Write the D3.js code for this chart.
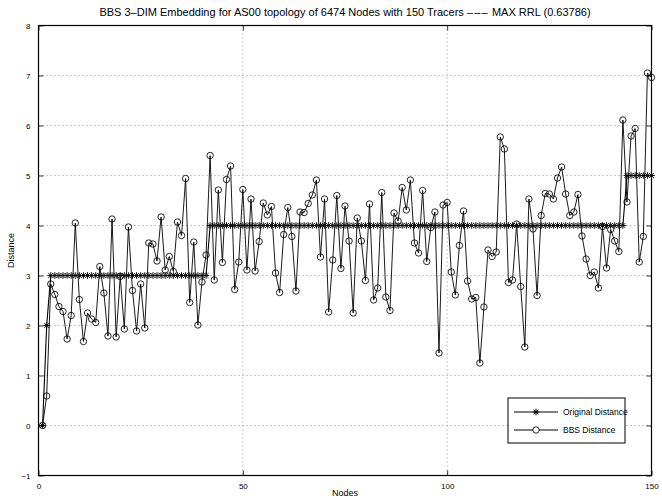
<!DOCTYPE html>
<html>
<head>
<meta charset="utf-8">
<script src="https://cdn.jsdelivr.net/npm/d3@7"></script>
<style>
  body { margin: 0; background: #fff; }
  text { font-family: "Liberation Sans", Arial, Helvetica, sans-serif; fill: #000; }
</style>
</head>
<body>
<svg id="chart" width="662" height="500"></svg>
<script>
// chart data
const titleMain = "BBS 3\u2013DIM Embedding for AS00 topology of 6474 Nodes with 150 Tracers ";
const titleDash = "\u2013\u2013\u2013";
const titleTail = " MAX RRL (0.63786)";
const xTicks = [0, 50, 100, 150];
const yTicks = [-1, 0, 1, 2, 3, 4, 5, 6, 7, 8];
const seriesNames = ["Original Distance", "BBS Distance"];

const originalDistance = [
  0, 2,
  3, 3, 3, 3, 3, 3, 3, 3, 3, 3, 3, 3, 3, 3, 3, 3, 3, 3, 3, 3,
  3, 3, 3, 3, 3, 3, 3, 3, 3, 3, 3, 3, 3, 3, 3, 3, 3, 3, 3,
  4, 4, 4, 4, 4, 4, 4, 4, 4, 4, 4, 4, 4, 4, 4, 4, 4, 4, 4, 4,
  4, 4, 4, 4, 4, 4, 4, 4, 4, 4, 4, 4, 4, 4, 4, 4, 4, 4, 4, 4,
  4, 4, 4, 4, 4, 4, 4, 4, 4, 4, 4, 4, 4, 4, 4, 4, 4, 4, 4, 4,
  4, 4, 4, 4, 4, 4, 4, 4, 4, 4, 4, 4, 4, 4, 4, 4, 4, 4, 4, 4,
  4, 4, 4, 4, 4, 4, 4, 4, 4, 4, 4, 4, 4, 4, 4, 4, 4, 4, 4, 4,
  4, 4,
  5, 5, 5, 5, 5, 5, 5
];

const bbsDistance = [
  0, 0.59, 2.83, 2.62, 2.38, 2.28, 1.73, 2.2, 4.05, 2.52,
  1.68, 2.25, 2.13, 2.06, 3.18, 2.65, 1.79, 4.13, 1.77, 2.98,
  1.93, 3.97, 2.7, 1.89, 2.83, 1.95, 3.65, 3.63, 3.29, 4.17,
  3.11, 3.38, 3.08, 4.07, 3.8, 4.94, 2.46, 3.67, 2.01, 2.87,
  3.41, 5.4, 2.91, 4.71, 3.26, 4.92, 5.19, 2.72, 3.27, 4.72,
  3.11, 4.53, 3.09, 3.68, 4.45, 4.21, 4.38, 3.05, 2.66, 3.82,
  4.36, 3.78, 2.69, 4.27, 4.26, 4.44, 4.61, 4.91, 3.37, 4.53,
  2.27, 3.31, 4.6, 3.14, 4.39, 3.69, 2.25, 4.15, 3.69, 2.9,
  4.43, 2.51, 2.75, 4.66, 2.57, 2.3, 4.25, 4.09, 4.76, 4.31,
  4.91, 3.65, 3.45, 4.7, 3.28, 3.96, 4.27, 1.45, 4.41, 4.46,
  3.07, 2.61, 3.6, 4.29, 2.89, 2.53, 2.56, 1.25, 2.37, 3.51,
  3.38, 3.47, 5.77, 5.53, 2.86, 2.91, 4.03, 2.78, 1.57, 4.53,
  3.93, 2.6, 4.2, 4.64, 4.63, 4.53, 4.95, 5.17, 4.63, 4.2,
  4.27, 4.62, 3.79, 3.33, 3.0, 3.07, 2.75, 3.98, 3.15, 3.92,
  3.69, 3.48, 6.11, 4.47, 5.79, 5.94, 3.27, 3.78, 7.05, 6.96
];

const dims = { left: 38.5, right: 651.5, top: 25.5, bottom: 475.5 };

const svg = d3.select("#chart");

const x = d3.scaleLinear().domain([0, 150]).range([dims.left, dims.right]);
const y = d3.scaleLinear().domain([-1, 8]).range([dims.bottom, dims.top]);

// grid (dotted, like matlab "grid on")
const grid = svg.append("g").attr("stroke", "#7a7a7a").attr("stroke-width", 0.8).attr("stroke-dasharray", "1,3");
grid.selectAll("line.gy")
  .data(yTicks.filter(d => d > -1 && d < 8))
  .enter().append("line")
    .attr("x1", dims.left).attr("x2", dims.right)
    .attr("y1", d => y(d)).attr("y2", d => y(d));
grid.selectAll("line.gx")
  .data(xTicks.filter(d => d > 0 && d < 150))
  .enter().append("line")
    .attr("y1", dims.top).attr("y2", dims.bottom)
    .attr("x1", d => x(d)).attr("x2", d => x(d));

// axes: ticks point inward, labels outside
const tickLen = 5;
const fmt = d => d < 0 ? "\u2212" + Math.abs(d) : String(d);

svg.append("g")
  .attr("transform", `translate(0,${dims.bottom})`)
  .call(d3.axisBottom(x).tickValues(xTicks).tickSize(-tickLen).tickPadding(tickLen + 3).tickFormat(fmt))
  .call(g => g.select(".domain").remove())
  .selectAll("text").attr("font-size", 8);

svg.append("g")
  .attr("transform", `translate(0,${dims.top})`)
  .call(d3.axisTop(x).tickValues(xTicks).tickSize(-tickLen).tickFormat(""))
  .call(g => g.select(".domain").remove());

svg.append("g")
  .attr("transform", `translate(${dims.left},0)`)
  .call(d3.axisLeft(y).tickValues(yTicks).tickSize(-tickLen).tickPadding(tickLen + 3).tickFormat(fmt))
  .call(g => g.select(".domain").remove())
  .selectAll("text").attr("font-size", 8);

svg.append("g")
  .attr("transform", `translate(${dims.right},0)`)
  .call(d3.axisRight(y).tickValues(yTicks).tickSize(-tickLen).tickFormat(""))
  .call(g => g.select(".domain").remove());

svg.selectAll(".tick line").attr("stroke", "#000").attr("stroke-width", 0.8);
svg.selectAll(".tick text").attr("fill", "#000").attr("font-family", "Liberation Sans, Arial, sans-serif");

svg.append("rect")
  .attr("x", dims.left).attr("y", dims.top)
  .attr("width", dims.right - dims.left).attr("height", dims.bottom - dims.top)
  .attr("fill", "none").attr("stroke", "#000").attr("stroke-width", 1.2);

// series
const starPath = "M-3.3,0L3.3,0M0,-3.3L0,3.3M-2.4,-2.4L2.4,2.4M-2.4,2.4L2.4,-2.4";

const line = d3.line().x((d, i) => x(i + 1)).y(d => y(d));

svg.append("path")
  .datum(originalDistance)
  .attr("d", line)
  .attr("fill", "none").attr("stroke", "#000").attr("stroke-width", 1.1);

svg.append("g").selectAll("path")
  .data(originalDistance)
  .enter().append("path")
    .attr("transform", (d, i) => `translate(${x(i + 1)},${y(d)})`)
    .attr("d", starPath)
    .attr("fill", "none").attr("stroke", "#111").attr("stroke-width", 1);

svg.append("path")
  .datum(bbsDistance)
  .attr("d", line)
  .attr("fill", "none").attr("stroke", "#000").attr("stroke-width", 0.9);

svg.append("g").selectAll("circle")
  .data(bbsDistance)
  .enter().append("circle")
    .attr("cx", (d, i) => x(i + 1))
    .attr("cy", d => y(d))
    .attr("r", 3.2)
    .attr("fill", "none").attr("stroke", "#000").attr("stroke-width", 0.85);

// title and labels
const title = svg.append("text")
  .attr("x", (dims.left + dims.right) / 2).attr("y", 16)
  .attr("text-anchor", "middle").attr("font-size", 11);
title.append("tspan").text(titleMain);
title.append("tspan").attr("letter-spacing", 1.2).text(titleDash);
title.append("tspan").text(titleTail);

svg.append("text")
  .attr("x", (dims.left + dims.right) / 2).attr("y", 496)
  .attr("text-anchor", "middle").attr("font-size", 9)
  .text("Nodes");

svg.append("text")
  .attr("transform", `translate(14,${(dims.top + dims.bottom) / 2}) rotate(-90)`)
  .attr("text-anchor", "middle").attr("font-size", 9)
  .text("Distance");

// legend
const legend = svg.append("g").attr("transform", "translate(508,398)");
legend.append("rect")
  .attr("width", 117).attr("height", 45)
  .attr("fill", "#fff").attr("stroke", "#000").attr("stroke-width", 1);

const rows = legend.selectAll("g.row")
  .data(seriesNames)
  .enter().append("g")
    .attr("transform", (d, i) => `translate(0,${14 + i * 18})`);
rows.append("line")
  .attr("x1", 6).attr("x2", 50)
  .attr("stroke", "#000").attr("stroke-width", 1);
rows.filter((d, i) => i === 0).append("path")
  .attr("transform", "translate(28,0)").attr("d", starPath)
  .attr("fill", "none").attr("stroke", "#000").attr("stroke-width", 1);
rows.filter((d, i) => i === 1).append("circle")
  .attr("cx", 28).attr("r", 3.2)
  .attr("fill", "#fff").attr("stroke", "#000").attr("stroke-width", 0.85);
rows.append("text")
  .attr("x", 55).attr("dy", "0.35em").attr("font-size", 8.5)
  .text(d => d);
</script>
</body>
</html>
